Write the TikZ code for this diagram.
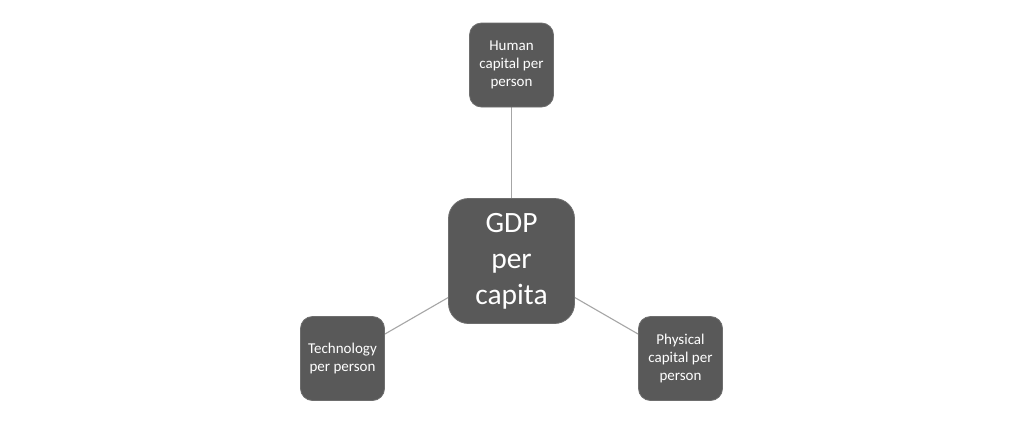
\documentclass[tikz,border=0pt]{standalone}
\usepackage{fontspec}
\setmainfont{Carlito}
\definecolor{boxfill}{HTML}{595959}
\definecolor{boxline}{HTML}{6E6E6E}
\definecolor{linkgray}{HTML}{A6A6A6}
\begin{document}
\begin{tikzpicture}[x=1pt,y=-1pt,
  small/.style={draw=boxline,line width=0.8pt,fill=boxfill,rounded corners=12pt,
    minimum width=84pt,minimum height=84pt,align=center,
    text=white,inner sep=0pt,font=\fontsize{15}{18}\selectfont},
  big/.style={draw=boxline,line width=0.8pt,fill=boxfill,rounded corners=20pt,
    minimum width=126pt,minimum height=125pt,align=center,
    text=white,inner sep=0pt,font=\fontsize{29.5}{36}\selectfont},
  link/.style={draw=linkgray,line width=1.1pt}]
\useasboundingbox (0,0) rectangle (1024,424);
\fill[white] (0,0) rectangle (1024,424);
\coordinate (cC) at (511.5,261);
\coordinate (cT) at (511.5,65);
\coordinate (cL) at (342.5,358.5);
\coordinate (cR) at (680.5,358.5);
\draw[link] (cC) -- (cT);
\draw[link] (cC) -- (cL);
\draw[link] (cC) -- (cR);
\node[big] (gdp) at (cC) {GDP\\per\\capita};
\node[small] (human) at (cT) {Human\\capital per\\person};
\node[small] (tech) at (cL) {Technology\\per person};
\node[small] (phys) at (cR) {Physical\\capital per\\person};
\end{tikzpicture}
\end{document}
